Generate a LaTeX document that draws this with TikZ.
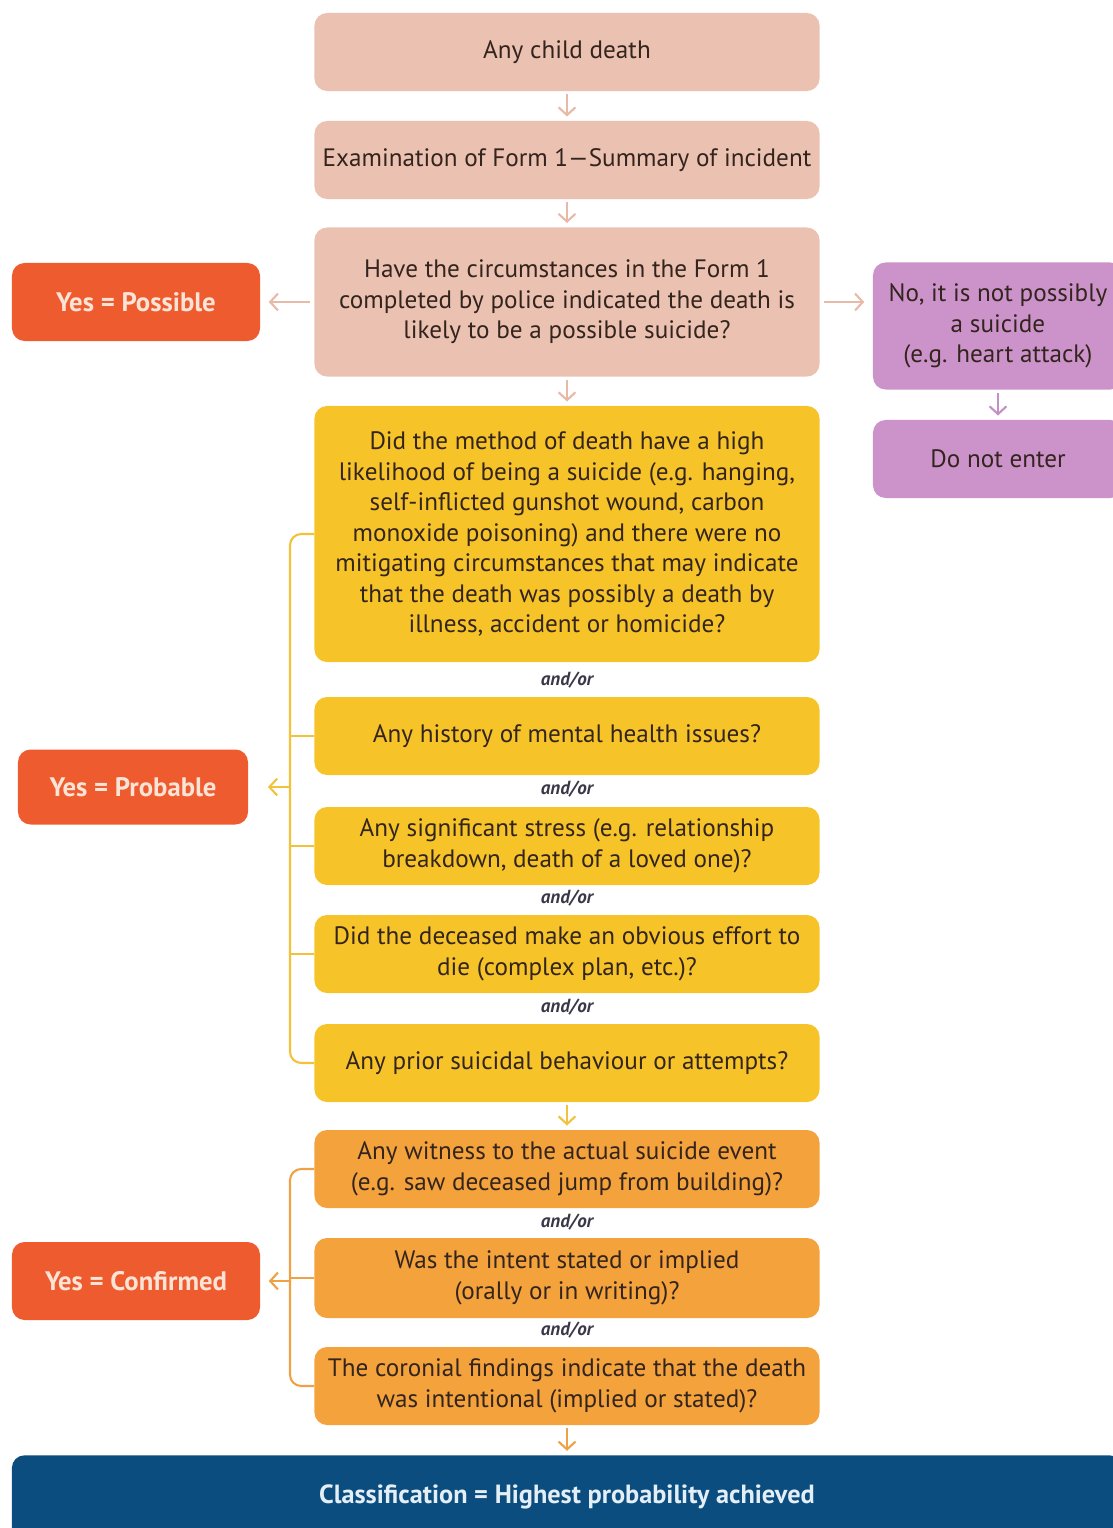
\documentclass[tikz,border=0pt]{standalone}
\usepackage{fontspec}
\setmainfont{PT Sans}
\usetikzlibrary{arrows.meta}

\definecolor{pinkfill}{HTML}{EBC1B1}
\definecolor{pinkline}{HTML}{E9B9A8}
\definecolor{yesfill}{HTML}{EE5B2F}
\definecolor{yestext}{HTML}{FBE4D6}
\definecolor{purplefill}{HTML}{CC93CB}
\definecolor{purpleline}{HTML}{C48FC4}
\definecolor{yellowfill}{HTML}{F6C428}
\definecolor{yellowline}{HTML}{F1C23A}
\definecolor{orangefill}{HTML}{F4A23C}
\definecolor{orangeline}{HTML}{EFA245}
\definecolor{bluefill}{HTML}{0C4D80}
\definecolor{bluetext}{HTML}{E3EEF6}
\definecolor{textdark}{HTML}{33241D}
\definecolor{andortext}{HTML}{3A3848}

\tikzset{
	box/.style={rectangle, rounded corners=9pt, minimum width=12.625cm, minimum height=1.95cm,
		align=center, text=textdark, inner sep=2pt, font=\fontsize{17.9}{21.7}\selectfont},
	pinkbox/.style={box, fill=pinkfill},
	yellowbox/.style={box, fill=yellowfill},
	orangebox/.style={box, fill=orangefill},
	purplebox/.style={box, fill=purplefill, minimum width=6.25cm},
	yesbox/.style={box, fill=yesfill, text=yestext, minimum width=6.2cm, font=\fontsize{19}{21.7}\selectfont\bfseries},
	andor/.style={text=andortext, font=\fontsize{13.5}{15}\selectfont\bfseries\itshape},
	conn/.style={line width=1.5pt, -{Straight Barb[length=5.5pt,width=12pt,line width=1.5pt]}},
	bracket/.style={line width=1.5pt, rounded corners=8pt},
}

\begin{document}
\begin{tikzpicture}[x=0.025cm, y=-0.025cm]
	\useasboundingbox (0,0) rectangle (1113,1528);
	% Main column
	\node [pinkbox] (death) at (567,52) {Any child death};
	\node [pinkbox] (form) at (567,160) {Examination of Form 1---Summary of incident};
	\node [pinkbox, minimum height=3.725cm] (circ) at (567,302) {Have the circumstances in the Form 1\\completed by police indicated the death is\\likely to be a possible suicide?};

	\node [yellowbox, minimum height=6.4cm] (method) at (567,534) {Did the method of death have a high\\likelihood of being a suicide (e.g. hanging,\\self-inflicted gunshot wound, carbon\\monoxide poisoning) and there were no\\mitigating circumstances that may indicate\\that the death was possibly a death by\\illness, accident or homicide?};
	\node [andor] (ao1) at (567,680) {and/or};
	\node [yellowbox] (mental) at (567,736) {Any history of mental health issues?};
	\node [andor] (ao2) at (567,789) {and/or};
	\node [yellowbox] (stress) at (567,846) {Any significant stress (e.g. relationship\\breakdown, death of a loved one)?};
	\node [andor] (ao3) at (567,898) {and/or};
	\node [yellowbox] (effort) at (567,954) {Did the deceased make an obvious effort to\\die (complex plan, etc.)?};
	\node [andor] (ao4) at (567,1007) {and/or};
	\node [yellowbox] (prior) at (567,1063) {Any prior suicidal behaviour or attempts?};

	\node [orangebox] (witness) at (567,1169) {Any witness to the actual suicide event\\(e.g. saw deceased jump from building)?};
	\node [andor] (ao5) at (567,1222) {and/or};
	\node [orangebox, minimum height=2cm] (intent) at (567,1278) {Was the intent stated or implied\\(orally or in writing)?};
	\node [andor] (ao6) at (567,1330) {and/or};
	\node [orangebox] (coronial) at (567,1386) {The coronial findings indicate that the death\\was intentional (implied or stated)?};

	\node [box, fill=bluefill, text=bluetext, minimum width=27.75cm, minimum height=2.15cm,
		font=\fontsize{18.7}{21.7}\selectfont\bfseries, anchor=north] (classif) at (567,1455) {\raisebox{0.2cm}{Classification = Highest probability achieved}};

	% Side boxes
	\node [yesbox] (possible) at (136,302) {Yes = Possible};
	\node [yesbox, minimum width=5.75cm, minimum height=1.875cm] (probable) at (133,787) {Yes = Probable};
	\node [yesbox] (confirmed) at (136,1281) {Yes = Confirmed};
	\node [purplebox, minimum height=3.175cm] (notsuicide) at (998,326) {No, it is not possibly\\a suicide\\(e.g. heart attack)};
	\node [purplebox] (noenter) at (998,459) {Do not enter};

	% Connectors
	\draw [conn, pinkline, shorten <=2pt, shorten >=3pt] (death) -- (form);
	\draw [conn, pinkline, shorten <=2pt, shorten >=3pt] (form) -- (circ);
	\draw [conn, pinkline, shorten <=2pt, shorten >=3pt] (circ) -- (method);
	\draw [conn, pinkline, shorten <=3pt, shorten >=6pt] (circ.west) -- (possible.east);
	\draw [conn, pinkline, shorten <=3pt, shorten >=6pt] (circ.east) -- (circ.east -| notsuicide.west);
	\draw [conn, purpleline, shorten <=2pt, shorten >=3pt] (notsuicide) -- (noenter);
	\draw [conn, yellowline, shorten <=2pt, shorten >=3pt] (prior) -- (witness);
	\draw [conn, orangeline, shorten <=2pt, shorten >=3pt] (coronial) -- (classif);

	% Yellow bracket
	\coordinate (ybr) at (290,787);
	\draw [bracket, yellowline] (method.west) -- (method.west -| ybr) -- (prior.west -| ybr) -- (prior.west);
	\draw [line width=1.5pt, yellowline] (mental.west) -- (mental.west -| ybr);
	\draw [line width=1.5pt, yellowline] (stress.west) -- (stress.west -| ybr);
	\draw [line width=1.5pt, yellowline] (effort.west) -- (effort.west -| ybr);
	\draw [conn, yellowline, shorten >=14pt] (ybr) -- (probable.east |- ybr);

	% Orange bracket
	\coordinate (obr) at (290,1281);
	\draw [bracket, orangeline] (witness.west) -- (witness.west -| obr) -- (coronial.west -| obr) -- (coronial.west);
	\draw [line width=1.5pt, orangeline] (intent.west) -- (intent.west -| obr);
	\draw [conn, orangeline, shorten >=6pt] (obr) -- (confirmed.east |- obr);
\end{tikzpicture}
\end{document}
